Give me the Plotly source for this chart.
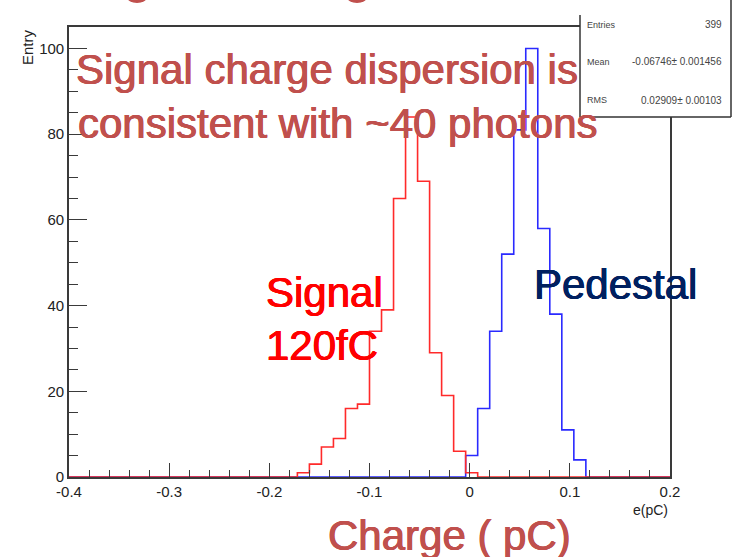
import plotly.graph_objects as go

# ---- data ----
x_min, x_max = -0.4, 0.2
n_bins = 50
bin_width = (x_max - x_min) / n_bins  # 0.012 pC

signal_counts = [0] * 19 + [1, 3, 7, 9, 16, 17, 34, 39, 65, 84, 69, 29, 19, 6, 1] + [0] * 16
pedestal_counts = [0] * 33 + [5, 16, 34, 52, 81, 100, 58, 38, 11, 4] + [0] * 7

x_tick_vals = [-0.4, -0.3, -0.2, -0.1, 0.0, 0.1, 0.2]
x_tick_text = ["-0.4", "-0.3", "-0.2", "-0.1", "0", "0.1", "0.2"]
y_tick_vals = [0, 20, 40, 60, 80, 100]
y_tick_text = ["0", "20", "40", "60", "80", "100"]

stats_labels = ["Entries", "Mean", "RMS"]
stats_values = ["399", "-0.06746\u00b1 0.001456", "0.02909\u00b1 0.00103"]

# ---- geometry helpers (pixel -> paper) ----
L, R, T, B = 69, 670, 27, 477
W, H = 732, 557


def px(x):
    return (x - L) / (R - L)


def py(y):
    return (B - y) / (B - T)


edges = [x_min + i * bin_width for i in range(n_bins + 1)]


def step(counts):
    return edges, counts + [counts[-1]]


fig = go.Figure()
xs, ys = step(pedestal_counts)
fig.add_trace(go.Scatter(x=xs, y=ys, mode="lines", line=dict(shape="hv", color="#2a2aff", width=1.6),
                         hoverinfo="skip"))
xs, ys = step(signal_counts)
fig.add_trace(go.Scatter(x=xs, y=ys, mode="lines", line=dict(shape="hv", color="#ff2a2a", width=1.6),
                         hoverinfo="skip"))

axis_color = "#3a3a3a"
x_minor = [round(x_min + 0.02 * i, 3) for i in range(31)]
y_minor = [5 * i for i in range(22)]

fig.update_xaxes(range=[x_min, x_max], tickmode="array", tickvals=x_tick_vals, ticktext=x_tick_text,
                 ticks="inside", ticklen=14, tickwidth=1.3, tickcolor=axis_color,
                 showline=True, linecolor=axis_color, linewidth=1.6, mirror=True,
                 showgrid=False, zeroline=False,
                 tickfont=dict(family="Liberation Sans", size=15, color="#222"),
                 minor=dict(tickmode="array", tickvals=x_minor, ticks="inside", ticklen=7,
                            tickwidth=1.3, tickcolor=axis_color, showgrid=False))
fig.update_yaxes(range=[0, 105], tickmode="array", tickvals=y_tick_vals, ticktext=y_tick_text,
                 ticks="inside", ticklen=18, tickwidth=1.3, tickcolor=axis_color,
                 showline=True, linecolor=axis_color, linewidth=1.6, mirror=True,
                 showgrid=False, zeroline=False,
                 tickfont=dict(family="Liberation Sans", size=15, color="#222"),
                 minor=dict(tickmode="array", tickvals=y_minor, ticks="inside", ticklen=9,
                            tickwidth=1.3, tickcolor=axis_color, showgrid=False))

shapes = []
# stats box (white fill + borders)
shapes.append(dict(type="rect", xref="paper", yref="paper", x0=px(580), x1=px(740), y0=py(117), y1=py(-5),
                   fillcolor="white", line=dict(width=0), layer="above"))
for (x0, y0, x1, y1) in [(580, 15, 580, 117), (580, 117, 731, 117), (731, -2, 731, 117)]:
    shapes.append(dict(type="line", xref="paper", yref="paper", x0=px(x0), y0=py(y0), x1=px(x1), y1=py(y1),
                       line=dict(color="#333", width=1.5), layer="above"))
# bits of cut-off title letters at the very top
for cx in (137, 357):
    shapes.append(dict(type="circle", xref="paper", yref="paper", x0=px(cx - 10), x1=px(cx + 10),
                       y0=py(3), y1=py(-9), fillcolor="#C0504D", line=dict(width=0), layer="above"))

annotations = []


def ann(text, x, y, size, color, xanchor="left", yanchor="middle", angle=0, family="Liberation Sans",
        heavy=False):
    font = dict(family=family, size=size, color=color)
    if heavy:
        font["shadow"] = f"0.5px 0px 0px {color}, -0.5px 0px 0px {color}, 0px 0.4px 0px {color}"
    annotations.append(dict(text=text, x=px(x), y=py(y), xref="paper", yref="paper", showarrow=False,
                            xanchor=xanchor, yanchor=yanchor, textangle=angle, font=font))


big = 42
# stats box text
for i, (lab, val) in enumerate(zip(stats_labels, stats_values)):
    yy = [25, 62, 100][i]
    ann(lab, 585, yy, 9, "#444")
    ann(val, 724, yy, 10, "#444", xanchor="right")

ann("Signal charge dispersion is", 74, 85 - 15, big, "#C0504D", heavy=True)
ann("consistent with ~40 photons", 76, 139 - 15, big, "#C0504D", heavy=True)
ann("Signal", 264, 307 - 15, big, "#FF0000", heavy=True)
ann("120fC", 264, 360 - 15, big, "#FF0000", heavy=True)
ann("Pedestal", 532, 299 - 15, big, "#002060", heavy=True)
ann("Charge ( pC)", 326, 550 - 15, big, "#C0504D", heavy=True)
ann("e(pC)", 670, 510, 14, "#222", xanchor="right")
ann("Entry", 27, 27, 15, "#222", xanchor="center", yanchor="top", angle=-90)

fig.update_layout(width=W, height=H, margin=dict(l=L, r=W - R, t=T, b=H - B, pad=0),
                  plot_bgcolor="white", paper_bgcolor="white", showlegend=False,
                  shapes=shapes, annotations=annotations)

fig.write_html("out.html")
